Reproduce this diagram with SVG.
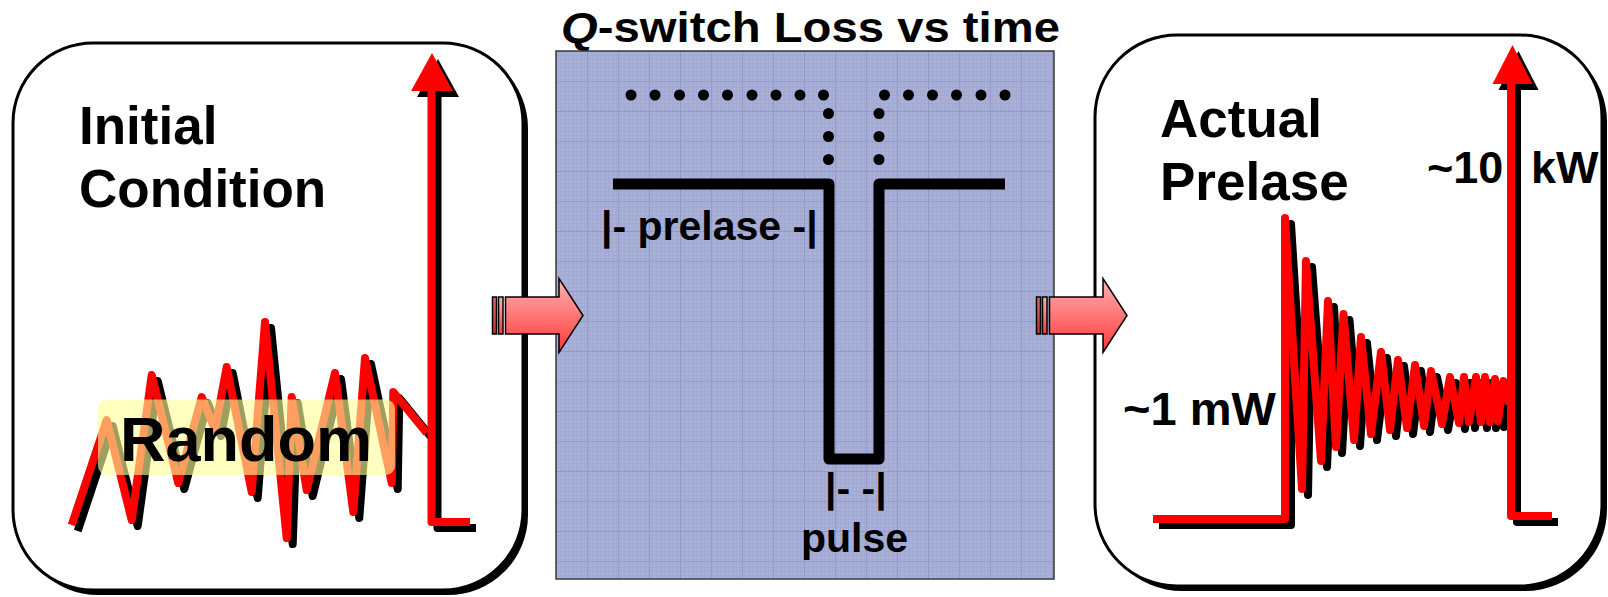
<svg xmlns="http://www.w3.org/2000/svg" width="1608" height="597" viewBox="0 0 1608 597">
<defs>
<style>
.t{font-family:"Liberation Sans",Arial,sans-serif;font-weight:bold;fill:#000}
.box{fill:#fff;stroke:#000;stroke-width:3}
.shadow{fill:#000}
.red{fill:none;stroke:#f00;stroke-width:8;stroke-linejoin:round}
.blk{fill:none;stroke:#000;stroke-width:8;stroke-linejoin:round}
.redf{fill:#f00}
.blkf{fill:#000}
.dot{fill:#000}
.arr{stroke:#000;stroke-width:1.5}
</style>
<linearGradient id="pink" x1="0" y1="0" x2="0" y2="1">
<stop offset="0" stop-color="#FFB4B4"/>
<stop offset="1" stop-color="#FF3838"/>
</linearGradient>
<linearGradient id="pinkd" x1="0" y1="0" x2="0" y2="1">
<stop offset="0" stop-color="#D87070"/>
<stop offset="1" stop-color="#C03030"/>
</linearGradient>
<pattern id="fine" x="556" y="51" width="4" height="4" patternUnits="userSpaceOnUse">
<path d="M0,0.5H4M0.5,0V4" stroke="#9AA1CD" stroke-width="1" fill="none"/>
</pattern>
<pattern id="major" x="556" y="51" width="31" height="30" patternUnits="userSpaceOnUse">
<path d="M0,0.5H31M0.5,0V30" stroke="#7E87BD" stroke-width="1" fill="none"/>
</pattern>
<g id="fatArrow">
<rect class="arr" x="0.5" y="-18.5" width="4" height="37" fill="url(#pinkd)"/>
<rect class="arr" x="6.5" y="-18.5" width="4.5" height="37" fill="url(#pink)"/>
<polygon class="arr" points="13.5,-18.5 67,-18.5 67,-37 91,0 67,37 67,18.5 13.5,18.5" fill="url(#pink)"/>
</g>
</defs>

<g id="initial-condition">
<rect class="shadow" x="18" y="48" width="510" height="547" rx="80"/>
<rect class="box" x="13" y="43" width="510" height="547" rx="80"/>
<text class="t" x="79" y="144" font-size="53">Initial</text>
<text class="t" x="79" y="207" font-size="53">Condition</text>
<g transform="translate(6,6)">
<polyline class="blk" points="71.7,525 106.7,420 131.7,520 151.7,375 178.3,483 201.7,397 215,430 226.7,367 251.7,492 265,322 286.7,538 291.7,397 306.7,490 335,373 353.3,512 365,358 391.7,483 393.3,392 426.7,433"/>
<path class="blk" d="M470,522 H431.5 V90" stroke-linejoin="miter"/>
<polygon class="blkf" points="432,53 411,91 453,91"/>
</g>
<polyline class="red" points="71.7,525 106.7,420 131.7,520 151.7,375 178.3,483 201.7,397 215,430 226.7,367 251.7,492 265,322 286.7,538 291.7,397 306.7,490 335,373 353.3,512 365,358 391.7,483 393.3,392 426.7,433"/>
<path class="red" d="M470,522 H431.5 V90" stroke-linejoin="miter"/>
<polygon class="redf" points="432,53 411,91 453,91"/>
<rect x="98" y="399.5" width="297" height="75.5" rx="9" fill="#FFFF99" opacity="0.62"/>
<text class="t" x="120" y="461" font-size="63">Random</text>
</g>

<g id="qswitch-loss">
<text class="t" x="561" y="42" font-size="43" textLength="499" lengthAdjust="spacingAndGlyphs"><tspan font-style="italic">Q</tspan>-switch Loss vs time</text>
<rect x="556" y="51" width="498" height="528" fill="#A9B0D7"/>
<rect x="556" y="51" width="498" height="528" fill="url(#fine)" opacity="0.45"/>
<rect x="556" y="51" width="498" height="528" fill="url(#major)" opacity="0.5"/>
<rect x="556" y="51" width="498" height="528" fill="none" stroke="#3A3A3A" stroke-width="1.5"/>
<g class="dot">
<circle cx="631" cy="95" r="5.5"/><circle cx="655" cy="95" r="5.5"/><circle cx="679.5" cy="95" r="5.5"/>
<circle cx="703.5" cy="95" r="5.5"/><circle cx="727.5" cy="95" r="5.5"/><circle cx="752" cy="95" r="5.5"/>
<circle cx="776" cy="95" r="5.5"/><circle cx="800" cy="95" r="5.5"/><circle cx="823.5" cy="95" r="5.5"/>
<circle cx="884.5" cy="95" r="5.5"/><circle cx="908.5" cy="95" r="5.5"/><circle cx="932.5" cy="95" r="5.5"/>
<circle cx="956.5" cy="95" r="5.5"/><circle cx="981" cy="95" r="5.5"/><circle cx="1005" cy="95" r="5.5"/>
<circle cx="828.5" cy="113.5" r="5.5"/><circle cx="828.5" cy="136.5" r="5.5"/><circle cx="828.5" cy="159.5" r="5.5"/>
<circle cx="879" cy="113.5" r="5.5"/><circle cx="879" cy="136.5" r="5.5"/><circle cx="879" cy="159.5" r="5.5"/>
</g>
<path d="M613,184 H829 V459 H879 V184 H1005" fill="none" stroke="#000" stroke-width="11" stroke-linejoin="round"/>
<text class="t" x="601" y="240" font-size="41">|- prelase -|</text>
<text class="t" x="825" y="502" font-size="41">|- -|</text>
<text class="t" x="801" y="552" font-size="41">pulse</text>
</g>

<g id="actual-prelase">
<rect class="shadow" x="1100" y="40" width="507" height="551" rx="82"/>
<rect class="box" x="1095" y="35" width="507" height="551" rx="82"/>
<text class="t" x="1160" y="137" font-size="53">Actual</text>
<text class="t" x="1160" y="200" font-size="53">Prelase</text>
<text class="t" x="1123" y="425" font-size="47">~1 mW</text>
<text class="t" x="1427" y="183" font-size="45">~10 <tspan x="1531">kW</tspan></text>
<g transform="translate(6,6)">
<polyline class="blk" points="1153,519 1285,519 1285,218 1302,489 1306,261 1321,461 1328,301 1336,447 1343.5,314 1354,440 1361,337 1371,434 1381,352 1390,430 1398,360 1407,428 1415,365 1424,426 1431,371 1442,424 1450,377 1459,423 1464,377 1469,422 1476,377 1481,422 1485,377 1490,422 1495,379 1498,421 1503.5,381 1509,404"/>
<path class="blk" d="M1552,516 H1511 V83" stroke-linejoin="miter"/>
<polygon class="blkf" points="1512.5,45 1492.5,84 1532.5,84"/>
</g>
<polyline class="red" points="1153,519 1285,519 1285,218 1302,489 1306,261 1321,461 1328,301 1336,447 1343.5,314 1354,440 1361,337 1371,434 1381,352 1390,430 1398,360 1407,428 1415,365 1424,426 1431,371 1442,424 1450,377 1459,423 1464,377 1469,422 1476,377 1481,422 1485,377 1490,422 1495,379 1498,421 1503.5,381 1509,404"/>
<path class="red" d="M1552,516 H1511 V83" stroke-linejoin="miter"/>
<polygon class="redf" points="1512.5,45 1492.5,84 1532.5,84"/>
</g>

<g id="connectors">
<use href="#fatArrow" transform="translate(492,315.5)"/>
<use href="#fatArrow" transform="translate(1036,315.5)"/>
</g>
</svg>
